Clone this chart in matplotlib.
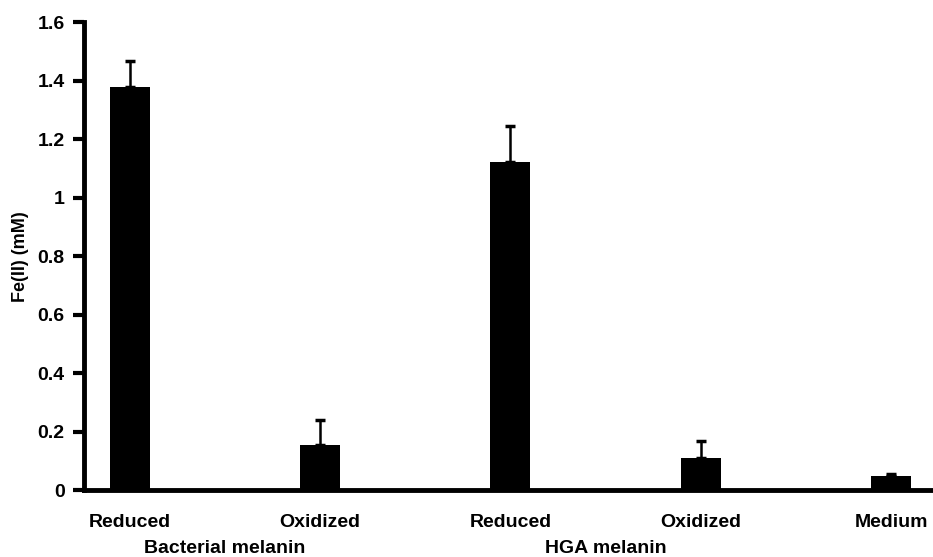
import numpy as np
import matplotlib.pyplot as plt

categories = ['Reduced', 'Oxidized', 'Reduced', 'Oxidized', 'Medium']
groups = ['Bacterial melanin', 'HGA melanin']
values = [1.377, 0.154, 1.123, 0.11, 0.047]
errors = [0.09, 0.085, 0.124, 0.058, 0.008]
yticks = [0, 0.2, 0.4, 0.6, 0.8, 1.0, 1.2, 1.4, 1.6]
ytick_labels = ['0', '0.2', '0.4', '0.6', '0.8', '1', '1.2', '1.4', '1.6']

plt.rcParams['font.family'] = ['Liberation Sans', 'DejaVu Sans']
plt.rcParams['font.weight'] = 'bold'
fs = 14

fig = plt.figure(figsize=(9.33, 5.57), dpi=100)
ax = fig.add_axes([0.09, 0.12, 0.91, 0.84])

x = np.arange(len(categories))
ax.bar(x, values, width=0.21, color='black', zorder=2)
ax.errorbar(x, values, yerr=[np.zeros(len(errors)), errors], fmt='none',
            ecolor='black', elinewidth=1.8, capsize=3.5, capthick=2.5, zorder=1)

ax.set_xlim(-0.24, 4.22)
ax.set_ylim(0, 1.6)
ax.set_yticks(yticks)
ax.set_yticklabels(ytick_labels, fontsize=fs, fontweight='bold')
ax.set_xticks([])
ax.tick_params(axis='y', direction='out', length=8, width=3, pad=6)

for s in ['top', 'right']:
    ax.spines[s].set_visible(False)
ax.spines['left'].set_linewidth(3.5)
ax.spines['bottom'].set_linewidth(3.5)

for i, c in enumerate(categories):
    ax.text(i, -0.112, c, ha='center', va='center', fontsize=fs,
            fontweight='bold', clip_on=False)
ax.text(0.5, -0.198, groups[0], ha='center', va='center', fontsize=fs,
        fontweight='bold', clip_on=False)
ax.text(2.5, -0.198, groups[1], ha='center', va='center', fontsize=fs,
        fontweight='bold', clip_on=False)

ax.set_ylabel('Fe(II) (mM)', fontsize=fs - 1, fontweight='bold')
ax.yaxis.set_label_coords(-0.065, 0.5)

plt.savefig('out.png', dpi=100)
